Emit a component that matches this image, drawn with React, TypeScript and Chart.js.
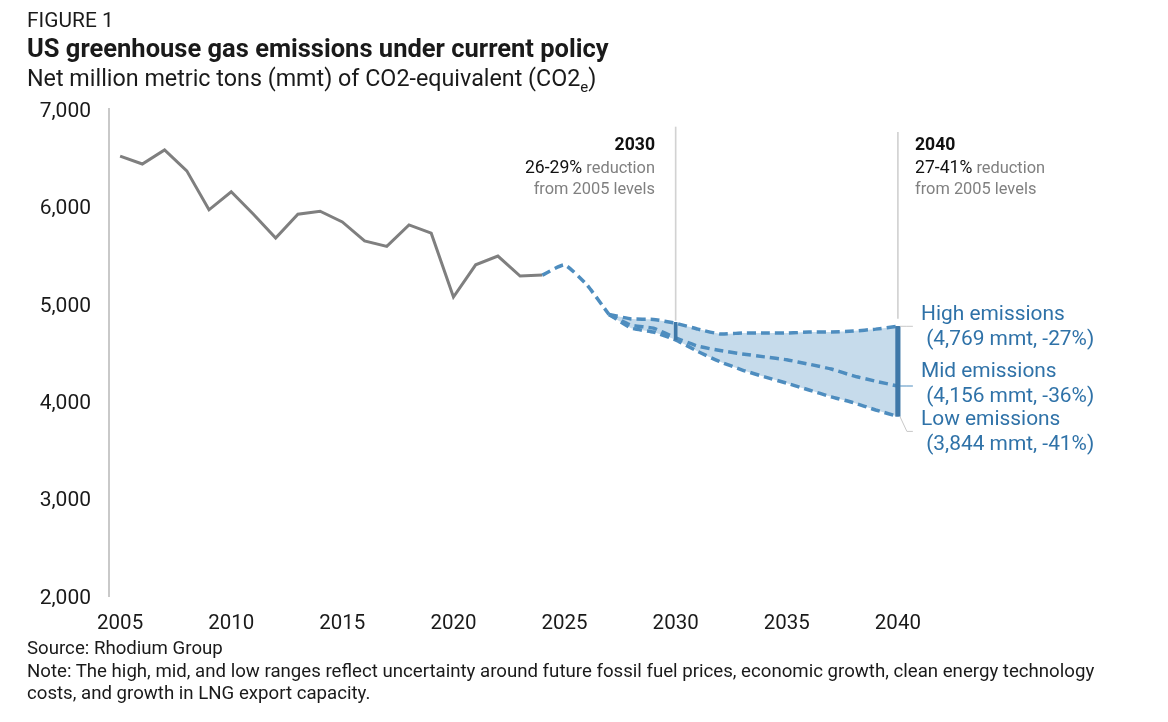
import { useEffect, useRef } from 'react';
import { Chart, registerables } from 'chart.js';

Chart.register(...registerables);

const years = Array.from({ length: 36 }, (_, i) => String(2005 + i));

// 2005-2024
const historical = [6517, 6435, 6580, 6365, 5965, 6150, 5920, 5675, 5920, 5950, 5840, 5645, 5590, 5810, 5725, 5070, 5400, 5490, 5285, 5295];
// 2024-2027, before the scenarios split
const projected = [5295, 5400, 5195, 4890];
// 2027-2040
const highEmissions = [4890, 4845, 4840, 4800, 4740, 4690, 4700, 4700, 4700, 4710, 4710, 4720, 4740, 4769];
const midEmissions = [4890, 4780, 4750, 4650, 4565, 4520, 4485, 4455, 4425, 4380, 4330, 4260, 4205, 4156];
const lowEmissions = [4890, 4750, 4710, 4630, 4510, 4405, 4320, 4250, 4185, 4115, 4045, 3985, 3910, 3844];

const guide2030 = [4830, 6815];
const guide2040 = [4850, 6760];
const range2030 = [4630, 4810];
const range2040 = [3844, 4769];

const GREY = '#7f7f7f';
const BLUE = '#4e8dbf';
const DARK_BLUE = '#3f78a8';
const LABEL_BLUE = '#2f72a8';
const FONT = 'Roboto, sans-serif';

const from = (start: string, values: number[]) => {
  const at = years.indexOf(start);
  return years.map((_, i) => (i >= at && i < at + values.length ? values[i - at] : null));
};
const onlyAt = (year: string, value: number[]) => years.map(y => (y === year ? value : null));

const dashedLine = (label: string, data: (number | null)[], extra = {}) => ({
  type: 'line' as const,
  label,
  data,
  borderColor: BLUE,
  borderWidth: 3.5,
  borderDash: [9, 5],
  tension: 0.15,
  pointRadius: 0,
  fill: false,
  order: 2,
  ...extra,
});

const floatingBar = (label: string, data: any[], color: string, thickness: number, order: number) => ({
  type: 'bar' as const,
  label,
  data,
  backgroundColor: color,
  barThickness: thickness,
  grouped: false,
  order,
});

// leader lines from the 2040 range to the scenario labels
const leaderLines = {
  id: 'leaderLines',
  afterDatasetsDraw(chart: Chart) {
    const { ctx, scales } = chart;
    const x = scales.x.getPixelForValue(years.indexOf('2040'));
    const leaders = [
      { from: 4769, to: 4769, color: '#c8c8c8' },
      { from: 4156, to: 4156, color: BLUE },
      { from: 3844, to: 3690, color: '#c8c8c8' },
    ];
    ctx.save();
    ctx.lineWidth = 1;
    leaders.forEach(l => {
      ctx.strokeStyle = l.color;
      ctx.beginPath();
      ctx.moveTo(x + 2, scales.y.getPixelForValue(l.from));
      ctx.lineTo(x + 9, scales.y.getPixelForValue(l.to));
      ctx.lineTo(x + 15, scales.y.getPixelForValue(l.to));
      ctx.stroke();
    });
    ctx.restore();
  },
};

const text = (left: number, top: number, style: React.CSSProperties = {}) => ({
  position: 'absolute' as const,
  left,
  top,
  whiteSpace: 'pre' as const,
  ...style,
});

const strong = { color: '#111', fontSize: 17.6 };
const nudged = { position: 'relative' as const, top: 1 };

export default function App() {
  const chartRef = useRef<HTMLCanvasElement>(null);

  useEffect(() => {
    if (!chartRef.current) return;
    const chart = new Chart(chartRef.current, {
      type: 'bar',
      data: {
        labels: years,
        datasets: [
          floatingBar('2030 guide', onlyAt('2030', guide2030), '#d2d2d2', 1, 5),
          floatingBar('2040 guide', onlyAt('2040', guide2040), '#d2d2d2', 1, 5),
          {
            type: 'line',
            label: 'Historical',
            data: from('2005', historical),
            borderColor: GREY,
            borderWidth: 3,
            tension: 0,
            pointRadius: 0,
            order: 3,
          },
          dashedLine('Projected', from('2024', projected)),
          dashedLine('High emissions', from('2027', highEmissions), {
            fill: { target: 6, above: '#c6dbeb', below: '#c6dbeb' },
          }),
          dashedLine('Mid emissions', from('2027', midEmissions)),
          dashedLine('Low emissions', from('2027', lowEmissions)),
          floatingBar('2030 range', onlyAt('2030', range2030), DARK_BLUE, 3, 1),
          floatingBar('2040 range', onlyAt('2040', range2040), DARK_BLUE, 4.5, 1),
        ] as any,
      },
      options: {
        responsive: false,
        animation: false,
        layout: { padding: { left: 0, right: 259, top: 109, bottom: 0 } },
        plugins: {
          legend: { display: false },
          tooltip: { enabled: false },
          filler: { drawTime: 'beforeDatasetsDraw' },
        },
        scales: {
          x: {
            offset: true,
            grid: { display: false, drawTicks: false },
            border: { display: false },
            afterFit: (s: any) => { s.height = 126; },
            ticks: {
              autoSkip: false,
              maxRotation: 0,
              padding: 16,
              color: '#1a1a1a',
              font: { family: FONT, size: 20.5 },
              callback: (_: any, i: number) => (i % 5 === 0 ? years[i] : ''),
            },
          },
          y: {
            min: 2000,
            max: 7000,
            grid: { display: false, drawTicks: false },
            border: { color: '#c9c9c9', width: 2 },
            afterFit: (s: any) => { s.width = 109; },
            ticks: {
              stepSize: 1000,
              padding: 18,
              color: '#1a1a1a',
              // blank first line pushes the label down a little, like the original
              font: { family: FONT, size: 21, lineHeight: 0.25 },
              callback: (v: any) => ['', Number(v).toLocaleString('en-US')],
            },
          },
        },
      },
      plugins: [leaderLines],
    });
    return () => chart.destroy();
  }, []);

  return (
    <div style={{ position: 'fixed', left: 0, top: 0, width: 1168, height: 722, background: '#fff', fontFamily: FONT, color: '#1a1a1a', overflow: 'hidden' }}>
      <canvas ref={chartRef} width={1168} height={722} style={{ position: 'absolute', left: 0, top: 0 }} />

      <div style={text(27, 9, { fontSize: 20.9, lineHeight: '22px' })}>FIGURE 1</div>
      <div style={text(27, 33, { fontSize: 25.5, lineHeight: '30px', fontWeight: 700 })}>US greenhouse gas emissions under current policy</div>
      <div style={text(27, 64, { fontSize: 23.3, lineHeight: '28px' })}>
        Net million metric tons (mmt) of CO2-equivalent (CO2<sub style={{ fontSize: 15, lineHeight: 0 }}>e</sub>)
      </div>

      <div style={text(455, 134, { width: 200, textAlign: 'right', fontSize: 16.4, lineHeight: '21.8px', color: '#808080' })}>
        <b style={strong}>2030</b>{'\n'}
        <span style={nudged}><span style={strong}>26-29%</span> reduction</span>{'\n'}from 2005 levels
      </div>
      <div style={text(915, 134, { fontSize: 16.4, lineHeight: '21.8px', color: '#808080' })}>
        <b style={strong}>2040</b>{'\n'}
        <span style={nudged}><span style={strong}>27-41%</span> reduction</span>{'\n'}from 2005 levels
      </div>

      <div style={text(921, 301, { fontSize: 20.9, lineHeight: '25px', color: LABEL_BLUE })}>High emissions{'\n'} (4,769 mmt, -27%)</div>
      <div style={text(921, 358, { fontSize: 20.9, lineHeight: '25px', color: LABEL_BLUE })}>Mid emissions{'\n'} (4,156 mmt, -36%)</div>
      <div style={text(921, 406, { fontSize: 20.9, lineHeight: '25px', color: LABEL_BLUE })}>Low emissions{'\n'} (3,844 mmt, -41%)</div>

      <div style={text(27, 637, { fontSize: 18.65, lineHeight: '22.5px' })}>
        Source: Rhodium Group{'\n'}Note: The high, mid, and low ranges reflect uncertainty around future fossil fuel prices, economic growth, clean energy technology{'\n'}costs, and growth in LNG export capacity.
      </div>
    </div>
  );
}
